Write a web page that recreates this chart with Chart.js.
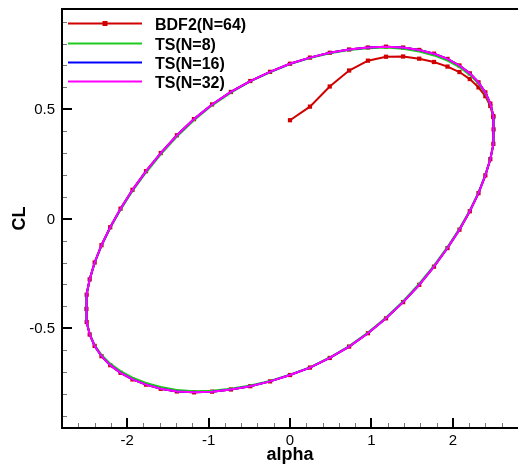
<!DOCTYPE html>
<html>
<head>
<meta charset="utf-8">
<script src="https://cdn.jsdelivr.net/npm/chart.js@4.4.1/dist/chart.umd.min.js"></script>
<style>
  html, body { margin: 0; padding: 0; background: #fff; overflow: hidden; }
  #wrap { width: 518px; height: 473px; position: relative; }
  #c { display: block; }
</style>
</head>
<body>
<div id="wrap"><canvas id="c"></canvas></div>
<script>
// CL vs alpha, one oscillation cycle sampled at 64 phase steps (k = 0..64)
const phaseAlpha = [0.000, 0.245, 0.488, 0.726, 0.957, 1.179, 1.389, 1.587, 1.768, 1.934, 2.081, 2.208, 2.315, 2.399, 2.460, 2.497, 2.500,
  2.497, 2.460, 2.399, 2.315, 2.208, 2.081, 1.934, 1.768, 1.587, 1.389, 1.179, 0.957, 0.726, 0.488, 0.245, 0.000,
  -0.245, -0.488, -0.726, -0.957, -1.179, -1.389, -1.587, -1.768, -1.934, -2.081, -2.208, -2.315, -2.399, -2.460, -2.497, -2.500,
  -2.497, -2.460, -2.399, -2.315, -2.208, -2.081, -1.934, -1.768, -1.587, -1.389, -1.179, -0.957, -0.726, -0.488, -0.245, 0.000];

const ts32CL = [0.708, 0.736, 0.758, 0.773, 0.782, 0.786, 0.782, 0.771, 0.754, 0.730, 0.700, 0.664, 0.623, 0.577, 0.526, 0.469, 0.408,
  0.342, 0.272, 0.198, 0.117, 0.034, -0.050, -0.134, -0.219, -0.302, -0.381, -0.455, -0.523, -0.584, -0.636, -0.680, -0.714,
  -0.743, -0.765, -0.780, -0.790, -0.793, -0.789, -0.777, -0.758, -0.734, -0.704, -0.669, -0.628, -0.581, -0.529, -0.472, -0.412,
  -0.347, -0.277, -0.200, -0.121, -0.039, 0.046, 0.132, 0.217, 0.300, 0.381, 0.455, 0.522, 0.579, 0.629, 0.671, 0.708];

// N=16 sits right under N=32
const ts16CL = [0.708, 0.736, 0.758, 0.773, 0.782, 0.786, 0.782, 0.771, 0.754, 0.730, 0.700, 0.664, 0.623, 0.577, 0.526, 0.469, 0.408,
  0.342, 0.272, 0.198, 0.117, 0.034, -0.050, -0.134, -0.219, -0.302, -0.381, -0.455, -0.523, -0.584, -0.636, -0.680, -0.714,
  -0.743, -0.765, -0.780, -0.790, -0.793, -0.789, -0.777, -0.758, -0.734, -0.704, -0.669, -0.628, -0.581, -0.529, -0.472, -0.412,
  -0.347, -0.277, -0.200, -0.121, -0.039, 0.046, 0.132, 0.217, 0.300, 0.381, 0.455, 0.522, 0.579, 0.629, 0.671, 0.708];

const ts8CL = [0.706, 0.734, 0.756, 0.771, 0.779, 0.782, 0.776, 0.764, 0.746, 0.722, 0.692, 0.657, 0.617, 0.572, 0.522, 0.467, 0.407,
  0.342, 0.273, 0.200, 0.120, 0.038, -0.045, -0.129, -0.214, -0.297, -0.377, -0.451, -0.520, -0.582, -0.634, -0.679, -0.712,
  -0.741, -0.762, -0.777, -0.786, -0.788, -0.782, -0.769, -0.750, -0.726, -0.696, -0.662, -0.622, -0.577, -0.526, -0.470, -0.411,
  -0.347, -0.278, -0.202, -0.124, -0.043, 0.041, 0.127, 0.211, 0.294, 0.375, 0.450, 0.518, 0.576, 0.627, 0.669, 0.706];

// BDF2 time steps: start-up transient then onto the periodic loop
const bdfAlpha = [0.000, 0.245, 0.488, 0.726, 0.957, 1.179, 1.389, 1.587, 1.768, 1.934, 2.081, 2.208, 2.315, 2.399, 2.460, 2.497, 2.500,
  2.497, 2.460, 2.399, 2.315, 2.208, 2.081, 1.934, 1.768, 1.587, 1.389, 1.179, 0.957, 0.726, 0.488, 0.245, 0.000,
  -0.245, -0.488, -0.726, -0.957, -1.179, -1.389, -1.587, -1.768, -1.934, -2.081, -2.208, -2.315, -2.399, -2.460, -2.497, -2.500,
  -2.497, -2.460, -2.399, -2.315, -2.208, -2.081, -1.934, -1.768, -1.587, -1.389, -1.179, -0.957, -0.726, -0.488, -0.245,
  0.000, 0.245, 0.488, 0.726, 0.957, 1.179, 1.389, 1.587, 1.768, 1.934, 2.081, 2.208, 2.315, 2.399, 2.460, 2.497];
const bdfCL = [0.450, 0.512, 0.604, 0.677, 0.722, 0.740, 0.741, 0.731, 0.716, 0.695, 0.670, 0.638, 0.600, 0.560, 0.515, 0.464, 0.408,
  0.342, 0.272, 0.198, 0.117, 0.034, -0.050, -0.134, -0.219, -0.302, -0.381, -0.455, -0.523, -0.584, -0.636, -0.680, -0.714,
  -0.743, -0.765, -0.780, -0.790, -0.793, -0.789, -0.777, -0.758, -0.734, -0.704, -0.669, -0.628, -0.581, -0.529, -0.472, -0.412,
  -0.347, -0.277, -0.200, -0.121, -0.039, 0.046, 0.132, 0.217, 0.300, 0.381, 0.455, 0.522, 0.579, 0.629, 0.671,
  0.708, 0.736, 0.758, 0.773, 0.782, 0.786, 0.782, 0.771, 0.754, 0.730, 0.700, 0.664, 0.623, 0.577, 0.526, 0.469];

const xMajor = [-2, -1, 0, 1, 2];
const xMajorLabels = ["-2", "-1", "0", "1", "2"];
const xMinor = [-2.6, -2.4, -2.2, -1.8, -1.6, -1.4, -1.2, -0.8, -0.6, -0.4, -0.2,
  0.2, 0.4, 0.6, 0.8, 1.2, 1.4, 1.6, 1.8, 2.2, 2.4, 2.6];
const yMajor = [-0.5, 0, 0.5];
const yMajorLabels = ["-0.5", "0", "0.5"];
const yMinor = [-0.9, -0.8, -0.7, -0.6, -0.4, -0.3, -0.2, -0.1, 0.1, 0.2, 0.3, 0.4, 0.6, 0.7, 0.8, 0.9];

const seriesNames = ["BDF2(N=64)", "TS(N=8)", "TS(N=16)", "TS(N=32)"];

const RED = "#d00000";
const GREEN = "#1ecb1e";
const BLUE = "#0000ff";
const MAGENTA = "#ff00ff";
const FONT = '"Liberation Sans", Arial, sans-serif';

const pts = (xs, ys) => xs.map((v, i) => ({ x: v, y: ys[i] }));

// tecplot-ish frame: inward ticks, labels, inside legend
const framePlugin = {
  id: "frame",
  afterDraw(chart) {
    const { ctx, chartArea: a, scales: { x, y } } = chart;
    ctx.save();

    ctx.strokeStyle = "#777";
    ctx.lineWidth = 1;
    ctx.beginPath();
    xMinor.forEach(v => {
      const px = Math.round(x.getPixelForValue(v)) + 0.5;
      ctx.moveTo(px, a.bottom);
      ctx.lineTo(px, a.bottom - 5);
    });
    yMinor.forEach(v => {
      const py = Math.round(y.getPixelForValue(v)) + 0.5;
      ctx.moveTo(a.left, py);
      ctx.lineTo(a.left + 5, py);
    });
    ctx.stroke();

    ctx.strokeStyle = "#000";
    ctx.lineWidth = 2;
    ctx.beginPath();
    xMajor.forEach(v => {
      const px = Math.round(x.getPixelForValue(v));
      ctx.moveTo(px, a.bottom);
      ctx.lineTo(px, a.bottom - 10);
    });
    yMajor.forEach(v => {
      const py = Math.round(y.getPixelForValue(v));
      ctx.moveTo(a.left, py);
      ctx.lineTo(a.left + 10, py);
    });
    ctx.stroke();

    ctx.beginPath();
    ctx.moveTo(a.right, a.top);
    ctx.lineTo(a.left, a.top);
    ctx.lineTo(a.left, a.bottom);
    ctx.lineTo(a.right, a.bottom);
    ctx.stroke();

    ctx.fillStyle = "#000";
    ctx.font = "15px " + FONT;
    ctx.textBaseline = "alphabetic";
    ctx.textAlign = "center";
    xMajor.forEach((v, i) => ctx.fillText(xMajorLabels[i], x.getPixelForValue(v), a.bottom + 17));
    ctx.textAlign = "right";
    yMajor.forEach((v, i) => ctx.fillText(yMajorLabels[i], a.left - 7, y.getPixelForValue(v) + 5));

    ctx.font = "bold 18px " + FONT;
    ctx.textAlign = "center";
    ctx.fillText("alpha", (a.left + a.right) / 2, a.bottom + 32);
    ctx.save();
    ctx.translate(25, (a.top + a.bottom) / 2);
    ctx.rotate(-Math.PI / 2);
    ctx.fillText("CL", 0, 0);
    ctx.restore();

    // legend
    const colors = [RED, GREEN, BLUE, MAGENTA];
    const rows = [23.5, 43.5, 62.5, 81.5];
    ctx.font = "bold 16px " + FONT;
    ctx.textAlign = "left";
    seriesNames.forEach((name, i) => {
      ctx.strokeStyle = colors[i];
      ctx.lineWidth = 2;
      ctx.beginPath();
      ctx.moveTo(68, rows[i]);
      ctx.lineTo(142, rows[i]);
      ctx.stroke();
      if (i === 0) {
        ctx.fillStyle = RED;
        ctx.fillRect(102.5, rows[i] - 2.5, 5, 5);
      }
      ctx.fillStyle = "#000";
      ctx.fillText(name, 155, rows[i] + 6);
    });

    ctx.restore();
  },
};

new Chart(document.getElementById("c"), {
  type: "scatter",
  data: {
    datasets: [
      {
        label: seriesNames[0],
        data: pts(bdfAlpha, bdfCL),
        showLine: true,
        borderColor: RED,
        backgroundColor: RED,
        borderWidth: 2,
        pointStyle: "rect",
        pointRadius: 3,
        pointBorderWidth: 0,
        order: 4,
      },
      {
        label: seriesNames[1],
        data: pts(phaseAlpha, ts8CL),
        showLine: true,
        borderColor: GREEN,
        borderWidth: 2,
        pointRadius: 0,
        order: 3,
      },
      {
        label: seriesNames[2],
        data: pts(phaseAlpha, ts16CL),
        showLine: true,
        borderColor: BLUE,
        borderWidth: 2,
        pointRadius: 0,
        order: 2,
      },
      {
        label: seriesNames[3],
        data: pts(phaseAlpha, ts32CL),
        showLine: true,
        borderColor: MAGENTA,
        borderWidth: 2,
        pointRadius: 0,
        order: 1,
      },
    ],
  },
  options: {
    responsive: true,
    maintainAspectRatio: false,
    animation: false,
    devicePixelRatio: 1,
    layout: { autoPadding: false, padding: { left: 62, top: 9, right: 0, bottom: 45 } },
    plugins: { legend: { display: false }, tooltip: { enabled: false } },
    scales: {
      x: { type: "linear", min: -2.8, max: 2.8, display: false },
      y: { type: "linear", min: -0.956, max: 0.958, display: false },
    },
  },
  plugins: [framePlugin],
});
</script>
</body>
</html>
